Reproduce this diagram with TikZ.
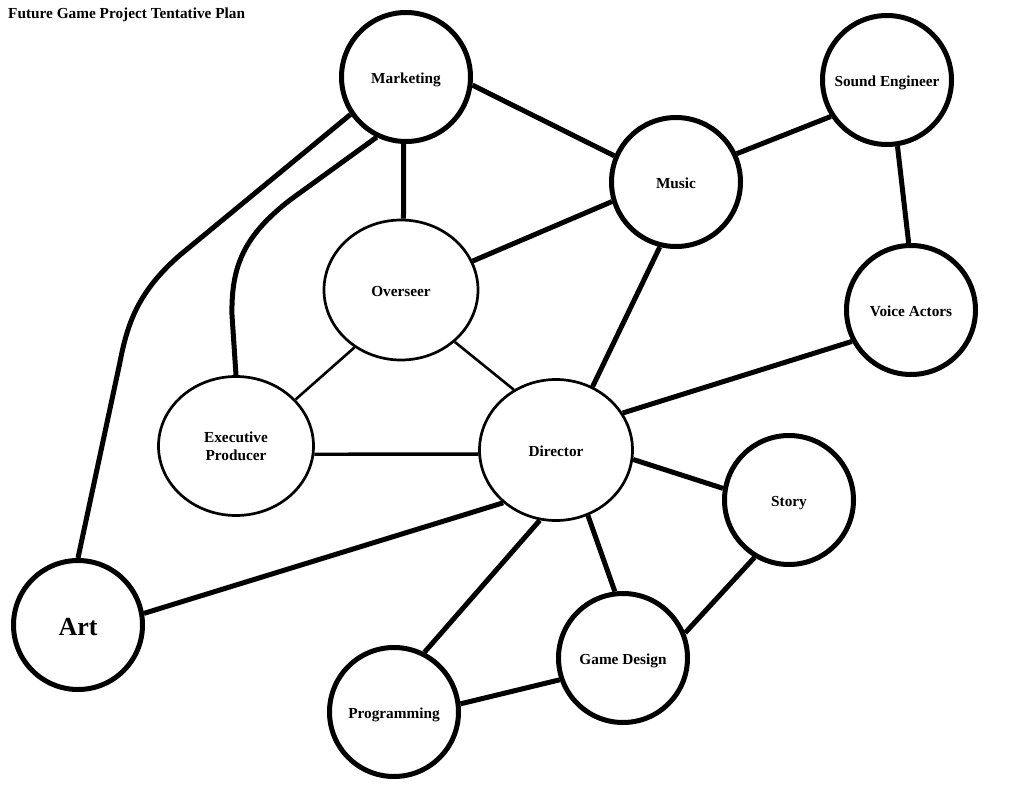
\documentclass[tikz,border=0pt]{standalone}
\usepackage{fontspec}
\setmainfont{Liberation Serif}
\usetikzlibrary{shapes.geometric}
\begin{document}
\begin{tikzpicture}[x=1pt,y=-1pt,
  every node/.style={font=\bfseries\fontsize{15.3}{18}\selectfont},
  bl/.style={text height=14pt,text depth=2pt},
  bigc/.style={circle,draw,line width=5pt,minimum size=129pt,inner sep=0pt,bl},
  ell/.style={ellipse,draw,line width=2.7pt,inner sep=0pt},
  thick line/.style={line width=5pt},
  thin line/.style={line width=2.6pt},
  mid line/.style={line width=3.4pt}]
\useasboundingbox (0,0) rectangle (1013,803);
\node[anchor=base west,inner sep=0pt] (title) at (8,19) {Future Game Project Tentative Plan};
\node[bigc] (mk) at (406,77) {Marketing};
\node[bigc] (se) at (887,80) {Sound Engineer};
\node[bigc] (mu) at (676,182) {Music};
\node[bigc] (va) at (911,310) {Voice Actors};
\node[ell,bl,minimum width=154pt,minimum height=140pt] (ov) at (401,290) {Overseer};
\node[ell,minimum width=155pt,minimum height=139pt,align=center] (ex) at (236,446) {\raisebox{-2pt}{Executive}\\\raisebox{-2pt}{Producer}};
\node[ell,bl,minimum width=153pt,minimum height=141pt] (di) at (556,450) {Director};
\node[bigc] (st) at (789,500) {Story};
\node[bigc,font=\bfseries\fontsize{26}{30}\selectfont,text height=22pt,text depth=2pt] (art) at (78,625) {Art};
\node[bigc] (gd) at (623,658) {Game Design};
\node[bigc] (pr) at (394,712) {Programming};

\draw[thick line] (mk.-7) -- (mu.157);
\draw[thick line] (mk.268) -- (ov.88);
\draw[thick line] (mk.214) -- (180,255) .. controls (140,290) and (128,320) .. (120,362) -- (art.north);
\draw[thick line] (mk.244) -- (290,200) .. controls (245,235) and (231,265) .. (232,315) -- (ex.north);
\draw[thick line] (mu.25) -- (se.213);
\draw[thick line] (mu.197) -- (ov.22);
\draw[thick line] (mu.256) -- (di.60);
\draw[thick line] (se.279) -- (va.92.6);
\draw[thick line] (va.208) -- (di.29.6);
\draw[thin line] (ov.231) -- (ex.38);
\draw[thin line] (ov.316.6) -- (di.125);
\draw[mid line] (ex.-6) -- (di.183);
\draw[thick line] (di.-7) -- (st.170);
\draw[thick line] (di.225) -- (art.10);
\draw[thick line] (di.257.7) -- (pr.63.4);
\draw[thick line] (di.296) -- (gd.97);
\draw[thick line] (st.239.6) -- (gd.22.8);
\draw[thick line] (pr.7.7) -- (gd.199.8);
\end{tikzpicture}
\end{document}
